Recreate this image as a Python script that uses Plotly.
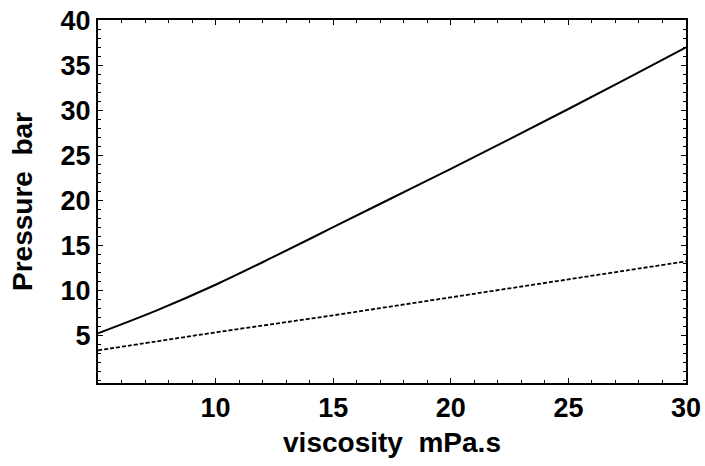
import plotly.graph_objects as go

viscosity = [5, 7.5, 10, 12.5, 15, 17.5, 20, 22.5, 25, 27.5, 30]
pressure_solid = [5.2, 7.75, 10.6, 13.75, 17.0, 20.25, 23.5, 26.8, 30.15, 33.55, 37.0]
pressure_dashed = [3.3, 4.3, 5.3, 6.25, 7.2, 8.2, 9.2, 10.2, 11.2, 12.2, 13.2]
x_ticks = [10, 15, 20, 25, 30]
y_ticks = [5, 10, 15, 20, 25, 30, 35, 40]

fig = go.Figure()
fig.add_trace(go.Scatter(x=viscosity, y=pressure_solid, mode="lines",
                         line=dict(color="black", width=2, shape="spline"),
                         showlegend=False, hoverinfo="skip"))
fig.add_trace(go.Scatter(x=viscosity, y=pressure_dashed, mode="lines",
                         line=dict(color="black", width=1.8, dash="4px,2px", shape="spline"),
                         showlegend=False, hoverinfo="skip"))

font_bold = "Liberation Sans"
axis_common = dict(
    showgrid=False, zeroline=False, showline=True, linecolor="black", linewidth=2,
    mirror="allticks", ticks="inside", ticklen=5, tickwidth=1, tickcolor="black",
    ticklabeloverflow="allow", automargin=False,
    tickfont=dict(family=font_bold, size=27, color="black", weight="bold"),
)
minor_common = dict(dtick=1, tick0=0, ticks="inside", ticklen=3, tickcolor="black", tickwidth=1)

fig.update_xaxes(
    range=[5, 30], tickvals=x_ticks, ticktext=[str(v) for v in x_ticks],
    minor=minor_common,
    title=dict(text="viscosity\u00a0\u00a0mPa.s", standoff=10,
               font=dict(family=font_bold, size=28, color="black", weight="bold")),
    **axis_common,
)
fig.update_yaxes(
    range=[-0.33, 40.05], tickvals=y_ticks, ticktext=[str(v) for v in y_ticks],
    minor=minor_common,
    title=dict(text="Pressure\u00a0\u00a0bar", standoff=20,
               font=dict(family=font_bold, size=28, color="black", weight="bold")),
    **axis_common,
)

fig.update_layout(
    width=705, height=466,
    margin=dict(l=98, r=19, t=20, b=83),
    plot_bgcolor="white", paper_bgcolor="white",
)

fig.write_html("out.html", config={"displayModeBar": False},
               post_script="document.body.style.margin='0';document.body.style.overflow='hidden';")
